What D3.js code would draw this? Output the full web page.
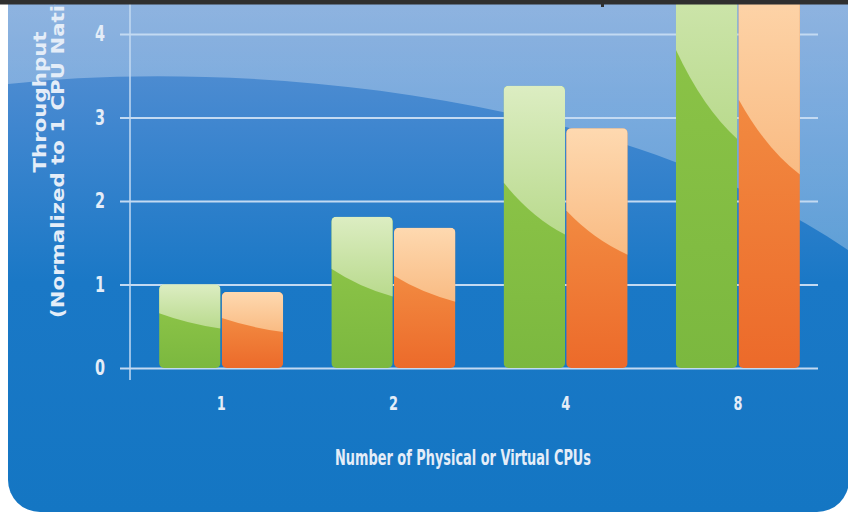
<!DOCTYPE html>
<html>
<head>
<meta charset="utf-8">
<script src="https://cdn.jsdelivr.net/npm/d3@7"></script>
<style>
  body { margin: 0; background: #fff; }
  svg { display: block; }
</style>
</head>
<body>
<div class="canvas"></div>
<script>
// data
const categories = ['1', '2', '4', '8'];
const seriesNames = ['native', 'virtual'];
const nativeValues = [1.0, 1.81, 3.38, 5.8];
const virtualValues = [0.91, 1.68, 2.87, 4.9];
const yTicks = [0, 1, 2, 3, 4];

const width = 848, height = 513;
const condensed = '"Liberation Sans Narrow", "DejaVu Sans Condensed", "Roboto Condensed", sans-serif';
const textColor = '#e4edf8';
const gridColor = '#c3daf2';

const svg = d3.select('.canvas')
  .append('svg')
  .attr('width', width)
  .attr('height', height);

const defs = svg.append('defs');

function gradient(id, stops, units) {
  const g = defs.append('linearGradient').attr('id', id)
    .attr('x1', 0).attr('y1', 0).attr('x2', 0).attr('y2', units ? height : 1);
  if (units) g.attr('gradientUnits', 'userSpaceOnUse');
  stops.forEach(s => g.append('stop').attr('offset', s[0]).attr('stop-color', s[1]).attr('stop-opacity', s[2] == null ? 1 : s[2]));
}

gradient('bg', [[0, '#5f93d3'], [0.25, '#3f86cf'], [0.55, '#1a78c6'], [1, '#1476c3']], true);
gradient('swoosh', [[0, '#ffffff', 0.3], [0.5, '#ffffff', 0.28]], true);
gradient('green', [[0, '#93c84b'], [1, '#7bb83f']]);
gradient('orange', [[0, '#f59b4d'], [1, '#ec6a2a']]);
gradient('greenHi', [[0, '#dcedc2'], [1, '#b9da8d']]);
gradient('orangeHi', [[0, '#fed9b0'], [1, '#f9bb83']]);

// background panel
defs.append('clipPath').attr('id', 'panel')
  .append('rect').attr('x', 8).attr('y', -60).attr('width', 841).attr('height', 572).attr('rx', 32);

const panel = svg.append('g').attr('clip-path', 'url(#panel)');
panel.append('rect').attr('x', 0).attr('y', -60).attr('width', width).attr('height', height + 60).attr('fill', 'url(#bg)');
panel.append('path')
  .attr('d', 'M0,-10 L848,-10 L848,250 C600,80 200,60 0,85 Z')
  .attr('fill', 'url(#swoosh)');

// scales
const y = d3.scaleLinear().domain([0, 4]).range([368, 34]);
const x0 = d3.scaleBand().domain(categories).range([135, 824]).paddingInner(0.28).paddingOuter(0.14);
const x1 = d3.scaleBand().domain(seriesNames).range([0, x0.bandwidth()]).paddingInner(0.02);

// digits in the picture are tall and narrow
function narrowDigits(sel, size, w) {
  sel.attr('fill', textColor)
    .style('font-family', '"DejaVu Sans", sans-serif')
    .style('font-weight', 'bold')
    .style('font-size', size + 'px')
    .attr('textLength', w)
    .attr('lengthAdjust', 'spacingAndGlyphs');
}

// grid + y axis
const yAxisGroup = svg.append('g').attr('transform', 'translate(120,0)');
yAxisGroup.call(d3.axisLeft(y).tickValues(yTicks).tickFormat(d3.format('d')).tickSize(-698).tickPadding(20));
yAxisGroup.select('.domain').remove();
yAxisGroup.selectAll('line').attr('stroke', gridColor).attr('stroke-width', 2.2);
yAxisGroup.selectAll('text').attr('text-anchor', 'middle').call(narrowDigits, 21, 10);

svg.append('line')
  .attr('x1', 130).attr('x2', 130).attr('y1', 0).attr('y2', 380)
  .attr('stroke', gridColor).attr('stroke-width', 1.5);

// bars
const rows = categories.map((c, i) => ({ cat: c, values: [nativeValues[i], virtualValues[i]] }));
const bars = [];
rows.forEach((r, i) => r.values.forEach((v, j) => bars.push({
  cat: r.cat, series: seriesNames[j], value: v, id: 'bar' + i + '_' + j
})));

const barX = d => x0(d.cat) + x1(d.series);

defs.selectAll('clipPath.bar')
  .data(bars)
  .enter()
  .append('clipPath')
  .attr('class', 'bar')
  .attr('id', d => d.id)
  .append('rect')
  .attr('x', barX)
  .attr('y', d => y(d.value))
  .attr('width', x1.bandwidth())
  .attr('height', d => y(0) - y(d.value))
  .attr('rx', 5);

const barGroups = svg.selectAll('g.bar')
  .data(bars)
  .enter()
  .append('g')
  .attr('class', 'bar')
  .attr('clip-path', d => `url(#${d.id})`);

barGroups.append('rect')
  .attr('x', barX)
  .attr('y', d => y(d.value))
  .attr('width', x1.bandwidth())
  .attr('height', d => y(0) - y(d.value))
  .attr('fill', d => d.series === 'native' ? 'url(#green)' : 'url(#orange)');

// glossy upper part
barGroups.append('path')
  .attr('d', d => {
    const x = barX(d), w = x1.bandwidth(), t = y(d.value), h = y(0) - y(d.value);
    return `M${x},${t}H${x + w}V${t + 0.527 * h}Q${x + 0.45 * w},${t + 0.465 * h} ${x},${t + 0.343 * h}Z`;
  })
  .attr('fill', d => d.series === 'native' ? 'url(#greenHi)' : 'url(#orangeHi)');

// x axis labels
const xAxisGroup = svg.append('g').attr('transform', 'translate(0,368)');
xAxisGroup.call(d3.axisBottom(x0).tickSize(0).tickPadding(28));
xAxisGroup.select('.domain').remove();
xAxisGroup.selectAll('text').call(narrowDigits, 20, 9);

// axis titles
svg.append('text')
  .attr('x', 335).attr('y', 465)
  .attr('textLength', 256).attr('lengthAdjust', 'spacingAndGlyphs')
  .attr('fill', textColor)
  .style('font-family', condensed)
  .style('font-weight', 'bold')
  .style('font-size', '21px')
  .text('Number of Physical or Virtual CPUs');

svg.append('text')
  .attr('transform', 'translate(46,102) rotate(-90)')
  .attr('text-anchor', 'middle')
  .attr('textLength', 141).attr('lengthAdjust', 'spacingAndGlyphs')
  .attr('fill', textColor)
  .style('font-family', '"DejaVu Sans", Verdana, sans-serif')
  .style('font-weight', 'bold')
  .style('font-size', '18px')
  .text('Throughput');

const t2 = svg.append('text')
  .attr('transform', 'translate(64,318) rotate(-90)')
  .attr('text-anchor', 'start')
  .attr('fill', textColor)
  .style('font-family', '"DejaVu Sans", Verdana, sans-serif')
  .style('font-weight', 'bold')
  .style('font-size', '17px')
  .text('(Normalized to 1 CPU Native)');
// stretch so that "(Normalized to 1 CPU Nati" spans ~313px like the picture
const part = t2.node().getSubStringLength(0, 25);
t2.attr('textLength', t2.node().getComputedTextLength() * 313 / part).attr('lengthAdjust', 'spacingAndGlyphs');

// dark frame edge at the top
svg.append('rect').attr('x', 0).attr('y', 0).attr('width', width).attr('height', 4.5).attr('fill', '#2f2f2f');
svg.append('rect').attr('x', 601).attr('y', 0).attr('width', 3).attr('height', 7).attr('fill', '#2f2f2f');
</script>
</body>
</html>
